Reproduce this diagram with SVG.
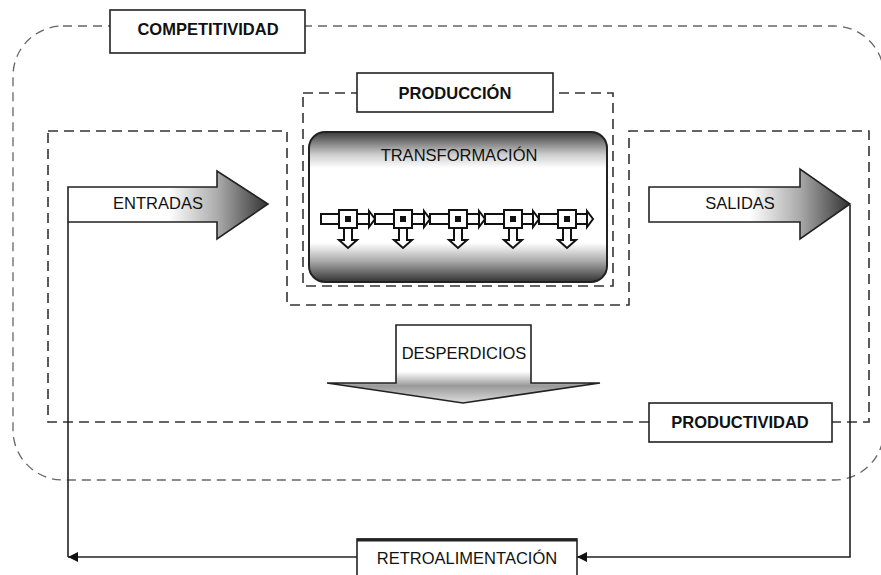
<svg xmlns="http://www.w3.org/2000/svg" width="881" height="575" viewBox="0 0 881 575">
<style>
.lbl{font-family:"Liberation Sans",Arial,sans-serif;font-size:16.5px;fill:#111;text-anchor:middle}
.b{font-weight:bold}
.dash-outer{fill:none;stroke:#666;stroke-width:1.3;stroke-dasharray:9 6}
.dash{fill:none;stroke:#333;stroke-width:1.6;stroke-dasharray:10 6}
.box{fill:#fff;stroke:#222;stroke-width:1.6}
.line{fill:none;stroke:#222;stroke-width:1.6}
.blk{fill:#fff;stroke:#111;stroke-width:2}
</style>
<defs>
<linearGradient id="gH" x1="0" y1="0" x2="1" y2="0">
<stop offset="0" stop-color="#fff"/>
<stop offset="0.5" stop-color="#fff"/>
<stop offset="0.75" stop-color="#aaa"/>
<stop offset="1" stop-color="#333"/>
</linearGradient>
<linearGradient id="gT" x1="0" y1="0" x2="0" y2="1">
<stop offset="0" stop-color="#3a3a3a"/>
<stop offset="0.15" stop-color="#ccc"/>
<stop offset="0.24" stop-color="#fff"/>
<stop offset="0.74" stop-color="#fff"/>
<stop offset="0.86" stop-color="#aaa"/>
<stop offset="1" stop-color="#333"/>
</linearGradient>
<linearGradient id="gD" x1="0" y1="0" x2="0" y2="1">
<stop offset="0" stop-color="#fff"/>
<stop offset="0.6" stop-color="#fff"/>
<stop offset="0.78" stop-color="#999"/>
<stop offset="1" stop-color="#ddd"/>
</linearGradient>
<marker id="ah" viewBox="0 0 10 10" refX="10" refY="5" markerWidth="13" markerHeight="10" markerUnits="userSpaceOnUse" orient="auto">
<path d="M0,0 L10,5 L0,10 z" fill="#111"/>
</marker>
</defs>
<rect width="881" height="575" fill="#fff"/>

<g id="competitividad">
<rect class="dash-outer" x="13" y="26" width="871" height="454" rx="50" ry="50"/>
<rect class="box" x="110" y="10" width="195" height="43"/>
<text class="lbl b" x="208" y="35">COMPETITIVIDAD</text>
</g>

<g id="productividad">
<path class="dash" d="M48,131 H287 V305 H629 V131 H869 V422 H48 Z"/>
</g>

<g id="produccion">
<rect class="dash" x="303" y="93" width="310" height="193"/>
<rect class="box" x="357" y="73" width="196" height="39"/>
<text class="lbl b" x="455" y="99">PRODUCCIÓN</text>
</g>

<g id="connectors">
<path class="line" d="M357,557 H68" marker-end="url(#ah)"/>
<path class="line" d="M68,557 V222"/>
<path class="line" d="M850,205 V557 H577" marker-end="url(#ah)"/>
</g>

<g id="productividad-label">
<rect class="box" x="649" y="403" width="183" height="39"/>
<text class="lbl b" x="740" y="428">PRODUCTIVIDAD</text>
</g>

<g id="transformacion">
<rect x="309" y="132" width="298" height="150" rx="16" ry="16" fill="url(#gT)" stroke="#222" stroke-width="2"/>
<text class="lbl" x="459" y="161">TRANSFORMACIÓN</text>
<g id="chain">
<rect class="blk" x="321" y="214" width="18" height="10"/>
<rect class="blk" x="357" y="214" width="12" height="10"/>
<polygon class="blk" points="369,211 375,219 369,227"/>
<rect class="blk" x="375" y="214" width="19" height="10"/>
<rect class="blk" x="412" y="214" width="12" height="10"/>
<polygon class="blk" points="424,211 430,219 424,227"/>
<rect class="blk" x="430" y="214" width="19" height="10"/>
<rect class="blk" x="467" y="214" width="12" height="10"/>
<polygon class="blk" points="479,211 485,219 479,227"/>
<rect class="blk" x="485" y="214" width="19" height="10"/>
<rect class="blk" x="522" y="214" width="11" height="10"/>
<polygon class="blk" points="533,211 539,219 533,227"/>
<rect class="blk" x="539" y="214" width="19" height="10"/>
<rect class="blk" x="576" y="214" width="11" height="10"/>
<polygon class="blk" points="587,211 593,219 587,227"/>
<g id="stations">
<rect class="blk" x="339" y="210" width="18" height="18"/><rect x="345" y="216" width="6" height="6" fill="#111"/>
<path class="blk" d="M344,228 V240 H339 L348,248 L357,240 H352 V228 Z"/>
<rect class="blk" x="394" y="210" width="18" height="18"/><rect x="400" y="216" width="6" height="6" fill="#111"/>
<path class="blk" d="M399,228 V240 H394 L403,248 L412,240 H407 V228 Z"/>
<rect class="blk" x="449" y="210" width="18" height="18"/><rect x="455" y="216" width="6" height="6" fill="#111"/>
<path class="blk" d="M454,228 V240 H449 L458,248 L467,240 H462 V228 Z"/>
<rect class="blk" x="504" y="210" width="18" height="18"/><rect x="510" y="216" width="6" height="6" fill="#111"/>
<path class="blk" d="M509,228 V240 H504 L513,248 L522,240 H517 V228 Z"/>
<rect class="blk" x="558" y="210" width="18" height="18"/><rect x="564" y="216" width="6" height="6" fill="#111"/>
<path class="blk" d="M563,228 V240 H558 L567,248 L576,240 H571 V228 Z"/>
</g>
</g>
</g>

<g id="entradas">
<path d="M68,187 H217 V171 L268,204 L217,239 V222 H68 Z" fill="url(#gH)" stroke="#222" stroke-width="1.6"/>
<text class="lbl" x="158" y="209">ENTRADAS</text>
</g>

<g id="salidas">
<path d="M649,187 H800 V169 L850,204 L800,239 V222 H649 Z" fill="url(#gH)" stroke="#222" stroke-width="1.6"/>
<text class="lbl" x="740" y="209">SALIDAS</text>
</g>

<g id="desperdicios">
<path d="M396,325 H531 V383 H600 L463,403 L327,383 H396 Z" fill="url(#gD)" stroke="#222" stroke-width="1.6"/>
<text class="lbl" x="464" y="359">DESPERDICIOS</text>
</g>

<g id="retroalimentacion">
<rect class="box" x="357" y="539" width="220" height="42"/>
<line x1="357" y1="540" x2="577" y2="540" stroke="#222" stroke-width="3"/>
<text class="lbl" x="467" y="564">RETROALIMENTACIÓN</text>
</g>
</svg>
